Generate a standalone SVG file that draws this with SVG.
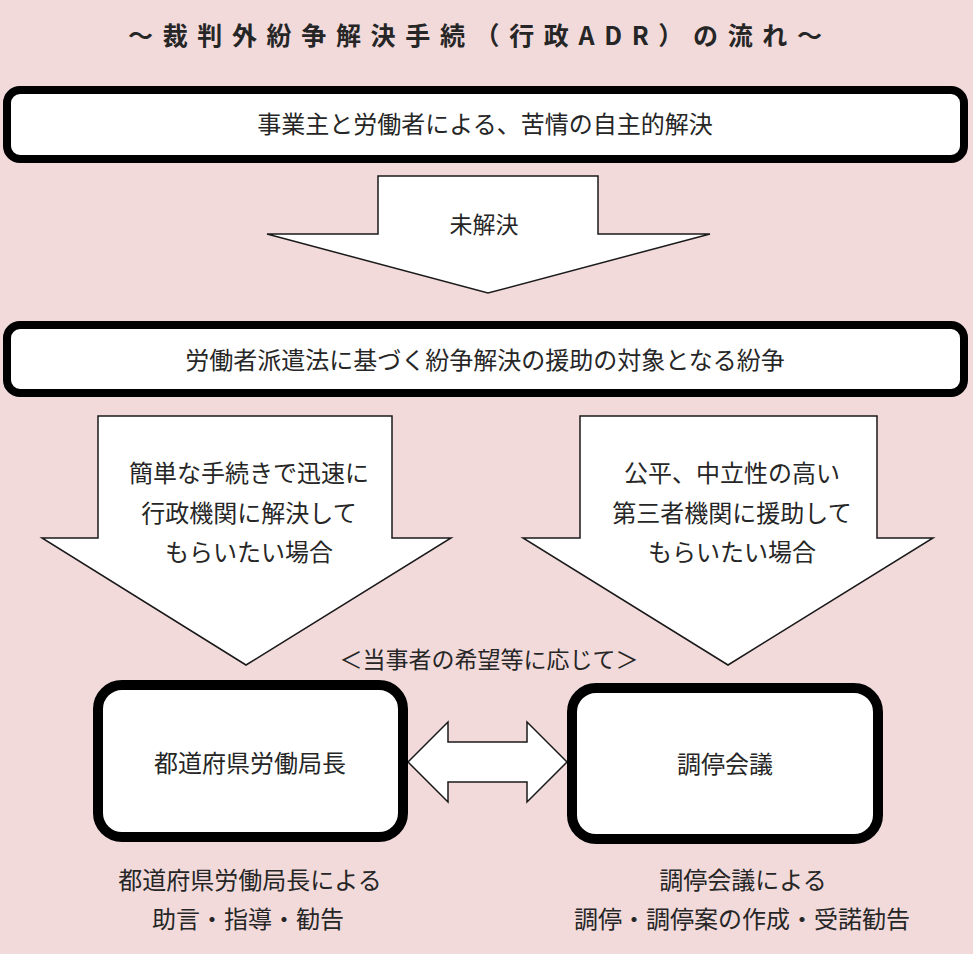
<svg xmlns="http://www.w3.org/2000/svg" width="973" height="954" viewBox="0 0 973 954">
  <style>
    .t { font-family: "Noto Sans CJK JP", "Noto Sans", sans-serif; fill: #262626; text-anchor: middle; }
    .box { fill: #ffffff; stroke: #000000; stroke-width: 8; }
    .bigbox { fill: #ffffff; stroke: #000000; stroke-width: 10; }
    .arrow { fill: #ffffff; stroke: #1a1a1a; stroke-width: 1.5; stroke-linejoin: miter; }
  </style>
  <rect x="0" y="0" width="973" height="954" fill="#f2dadb"/>

  <g id="title">
    <text class="t" x="475" y="45" font-size="25" font-weight="bold" fill="#1a1a1a" textLength="694" lengthAdjust="spacing">～裁判外紛争解決手続（行政ADR）の流れ～</text>
  </g>

  <g id="node-jishu">
    <rect class="box" x="7" y="90" width="957" height="69" rx="13"/>
    <text class="t" x="485" y="133" font-size="24">事業主と労働者による、苦情の自主的解決</text>
  </g>

  <g id="connectors">
    <polygon id="arrow-mikaiketsu" class="arrow" points="378,176 598,176 598,234 710,234 488,293 267,234 378,234"/>
    <polygon id="arrow-left" class="arrow" points="98,416 392,416 392,538 451,538 246,665 42,538 98,538"/>
    <polygon id="arrow-right" class="arrow" points="580,416 877,416 877,538 933,538 728,665 523,538 580,538"/>
    <polygon id="arrow-double" class="arrow" points="408,762 448,722 448,742 527,742 527,722 567,762 527,802 527,782 448,782 448,802"/>
  </g>

  <g id="label-mikaiketsu">
    <text class="t" x="484" y="233" font-size="23">未解決</text>
  </g>

  <g id="node-haken">
    <rect class="box" x="7" y="325" width="957" height="68" rx="13"/>
    <text class="t" x="485" y="369" font-size="24">労働者派遣法に基づく紛争解決の援助の対象となる紛争</text>
  </g>

  <g id="label-left">
    <text class="t" x="249" y="482" font-size="24">簡単な手続きで迅速に</text>
    <text class="t" x="249" y="522" font-size="24">行政機関に解決して</text>
    <text class="t" x="249" y="561" font-size="24">もらいたい場合</text>
  </g>

  <g id="label-right">
    <text class="t" x="732" y="482" font-size="24">公平、中立性の高い</text>
    <text class="t" x="732" y="522" font-size="24">第三者機関に援助して</text>
    <text class="t" x="732" y="561" font-size="24">もらいたい場合</text>
  </g>

  <g id="label-kibou">
    <text class="t" x="489" y="668" font-size="23">＜当事者の希望等に応じて＞</text>
  </g>

  <g id="node-kyokucho">
    <rect class="bigbox" x="98" y="685" width="305" height="152" rx="24"/>
    <text class="t" x="250" y="772" font-size="24">都道府県労働局長</text>
  </g>

  <g id="node-chotei">
    <rect class="bigbox" x="572" y="688" width="306" height="151" rx="24"/>
    <text class="t" x="725" y="773" font-size="24">調停会議</text>
  </g>

  <g id="caption-left">
    <text class="t" x="250" y="889" font-size="24">都道府県労働局長による</text>
    <text class="t" x="248" y="928" font-size="24">助言・指導・勧告</text>
  </g>

  <g id="caption-right">
    <text class="t" x="743" y="889" font-size="24">調停会議による</text>
    <text class="t" x="742" y="928" font-size="24">調停・調停案の作成・受諾勧告</text>
  </g>
</svg>
